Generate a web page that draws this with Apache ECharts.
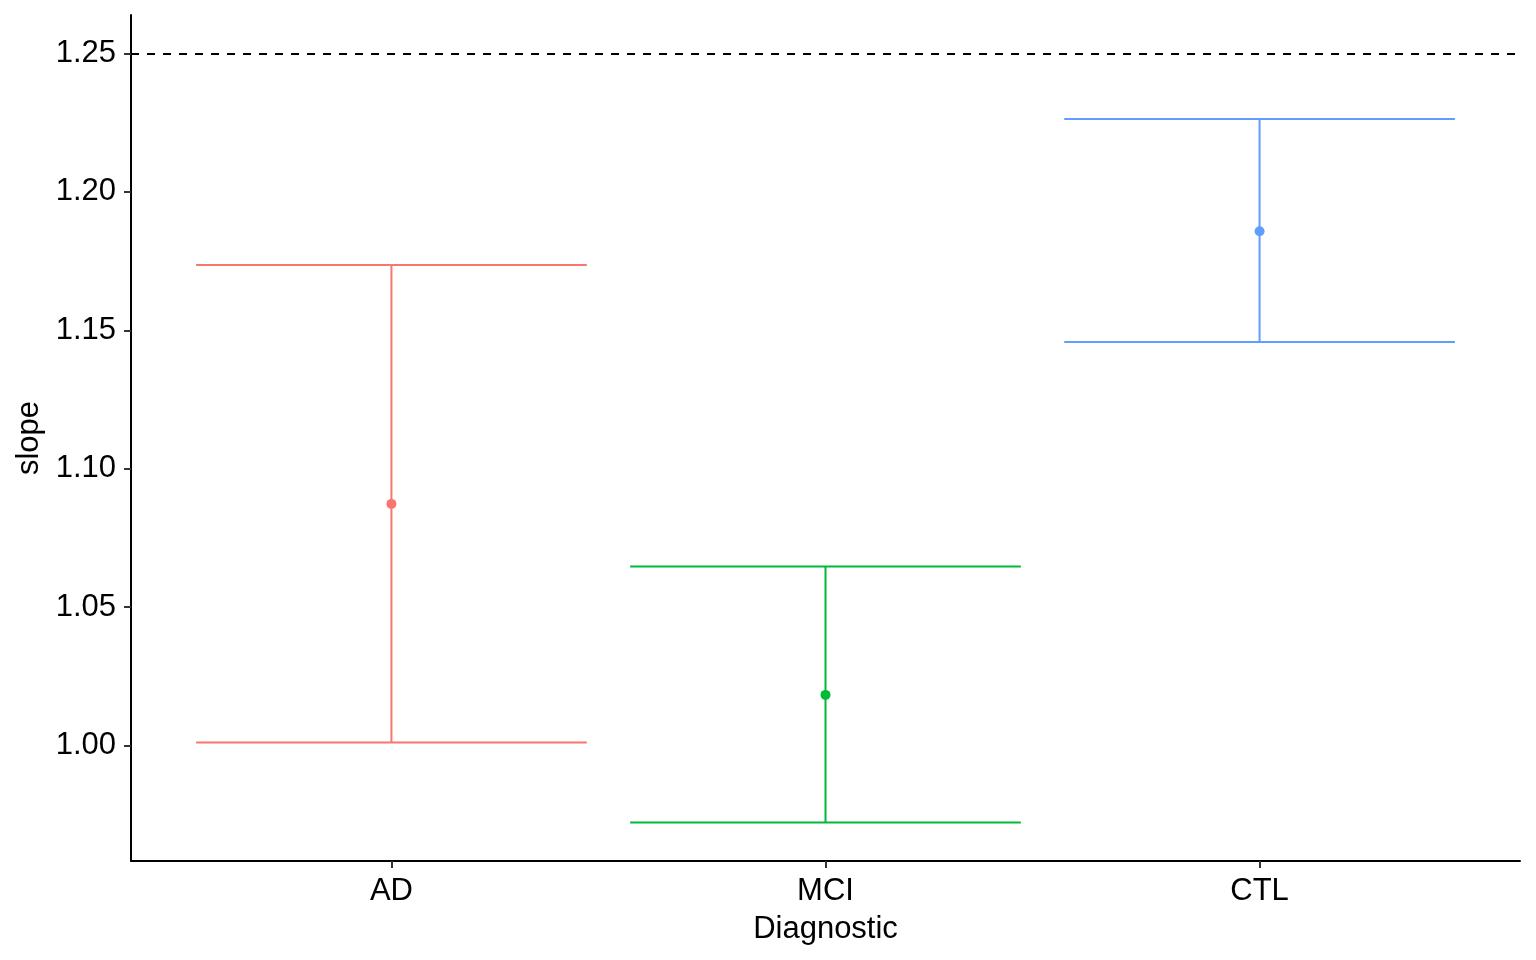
<!DOCTYPE html>
<html>
<head>
<meta charset="utf-8">
<script src="https://cdn.jsdelivr.net/npm/echarts@6/dist/echarts.min.js"></script>
<style>
html,body{margin:0;padding:0;background:#fff;}
#chart{width:1536px;height:960px;}
</style>
</head>
<body>
<div id="chart"></div>
<script>
const categories = ['AD', 'MCI', 'CTL'];
const means = [1.0873, 1.0183, 1.1858];
const lowers = [1.0011, 0.9722, 1.1458];
const uppers = [1.1736, 1.0647, 1.2263];
const yTicks = [1.00, 1.05, 1.10, 1.15, 1.20, 1.25];
const refLine = 1.25;
const palette = ['#F8766D', '#00BA38', '#619CFF'];

const FONT = 'Liberation Sans, Arial, sans-serif';
const chart = echarts.init(document.getElementById('chart'), null, {renderer: 'canvas'});

const barData = categories.map((c, i) => [i + 1, lowers[i], uppers[i]]);
const pointData = categories.map((c, i) => [i + 1, means[i]]);

const option = {
  animation: false,
  backgroundColor: '#ffffff',
  grid: {left: 131, right: 16, top: 15, bottom: 99, containLabel: false},
  xAxis: {
    type: 'value',
    min: 0.4,
    max: 3.6,
    splitLine: {show: false},
    axisLine: {show: true, onZero: false, lineStyle: {color: '#000', width: 2}},
    axisTick: {show: true, customValues: [1, 2, 3], length: 7, lineStyle: {color: '#333', width: 2}},
    axisLabel: {
      customValues: [1, 2, 3],
      formatter: v => categories[Math.round(v) - 1] || '',
      color: '#000', fontSize: 31, fontFamily: FONT, margin: 15
    },
    name: 'Diagnostic',
    nameLocation: 'middle',
    nameGap: 53,
    nameTextStyle: {color: '#000', fontSize: 31, fontFamily: FONT}
  },
  yAxis: {
    type: 'value',
    min: 0.9583,
    max: 1.2639,
    splitLine: {show: false},
    axisLine: {show: true, onZero: false, lineStyle: {color: '#000', width: 2}},
    axisTick: {show: true, customValues: yTicks, length: 7, lineStyle: {color: '#333', width: 2}},
    axisLabel: {
      customValues: yTicks,
      formatter: v => v.toFixed(2),
      color: '#000', fontSize: 31, fontFamily: FONT, margin: 15
    },
    name: 'slope',
    nameLocation: 'middle',
    nameGap: 85,
    nameRotate: 90,
    nameTextStyle: {color: '#000', fontSize: 31, fontFamily: FONT}
  },
  series: [
    {
      type: 'custom',
      data: barData,
      encode: {x: 0, y: [1, 2]},
      renderItem: function (params, api) {
        const x = api.value(0);
        const lo = api.value(1);
        const hi = api.value(2);
        const pLo = api.coord([x, lo]);
        const pHi = api.coord([x, hi]);
        const l1 = api.coord([x - 0.45, lo]);
        const r1 = api.coord([x + 0.45, lo]);
        const l2 = api.coord([x - 0.45, hi]);
        const r2 = api.coord([x + 0.45, hi]);
        const style = {stroke: palette[params.dataIndex], lineWidth: 2, fill: null};
        return {
          type: 'group',
          children: [
            {type: 'line', shape: {x1: pLo[0], y1: pLo[1], x2: pHi[0], y2: pHi[1]}, style: style},
            {type: 'line', shape: {x1: l1[0], y1: l1[1], x2: r1[0], y2: r1[1]}, style: style},
            {type: 'line', shape: {x1: l2[0], y1: l2[1], x2: r2[0], y2: r2[1]}, style: style}
          ]
        };
      },
      z: 2
    },
    {
      type: 'scatter',
      data: pointData,
      symbol: 'circle',
      symbolSize: 10,
      itemStyle: {color: p => palette[p.dataIndex], opacity: 1},
      z: 3,
      markLine: {
        silent: true,
        symbol: ['none', 'none'],
        label: {show: false},
        lineStyle: {color: '#000', width: 2, type: [8, 8]},
        data: [{yAxis: refLine}]
      }
    }
  ]
};
chart.setOption(option);
</script>
</body>
</html>
